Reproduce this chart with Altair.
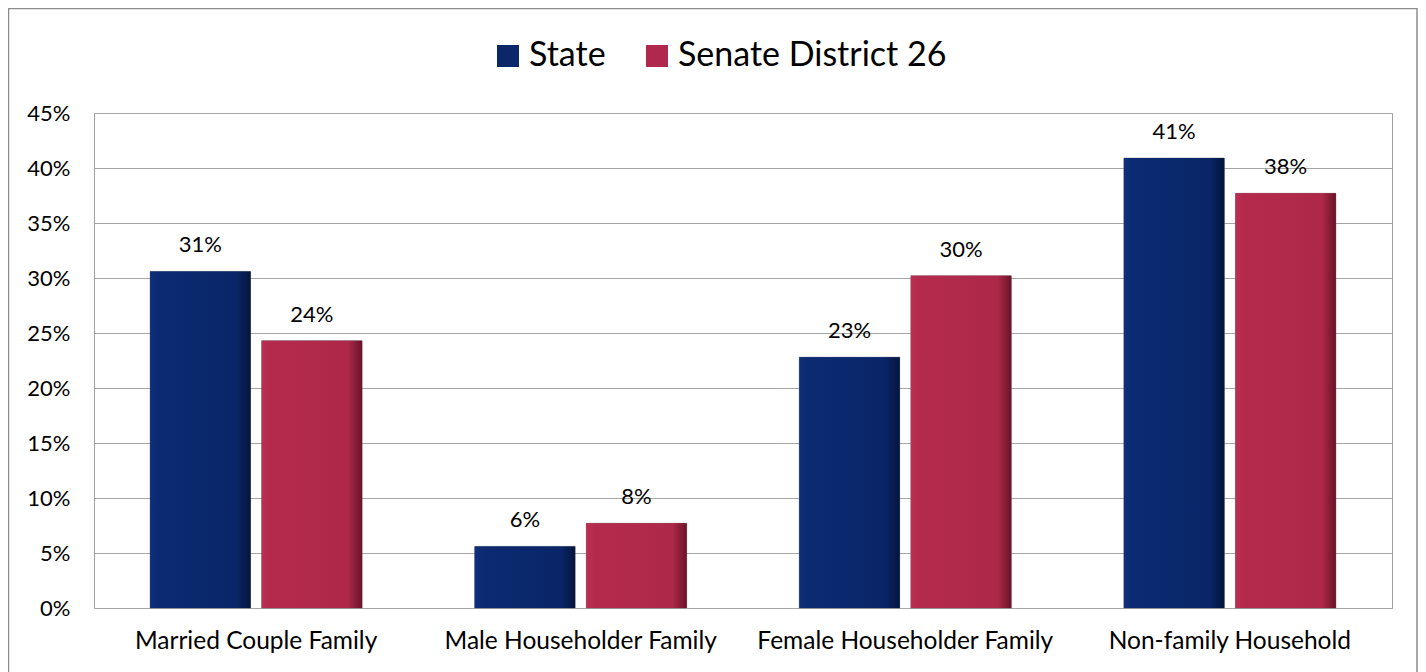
import altair as alt
import pandas as pd

categories = ["Married Couple Family", "Male Householder Family",
              "Female Householder Family", "Non-family Household"]
series = ["State", "Senate District 26"]
state_vals = [0.306, 0.056, 0.228, 0.409]
district_vals = [0.243, 0.077, 0.302, 0.377]
y_ticks = [0, 0.05, 0.10, 0.15, 0.20, 0.25, 0.30, 0.35, 0.40, 0.45]
colors = ["#0B2769", "#B0284B"]

rows = []
for c, s, d in zip(categories, state_vals, district_vals):
    rows.append({"category": c, "series": series[0], "value": s})
    rows.append({"category": c, "series": series[1], "value": d})
df = pd.DataFrame(rows)

FONT = "Lato"
W, H = 1298, 495
PAD = {"left": 86, "top": 105, "right": 26, "bottom": 80}

grad_state = {"gradient": "linear", "x1": 0, "y1": 0, "x2": 1, "y2": 0,
              "stops": [{"offset": 0, "color": "#0E2F7A"},
                        {"offset": 0.08, "color": "#0B2A72"},
                        {"offset": 0.86, "color": "#0A2668"},
                        {"offset": 1, "color": "#04143C"}]}
grad_dist = {"gradient": "linear", "x1": 0, "y1": 0, "x2": 1, "y2": 0,
             "stops": [{"offset": 0, "color": "#BC2F52"},
                       {"offset": 0.08, "color": "#B42A4D"},
                       {"offset": 0.86, "color": "#AE284A"},
                       {"offset": 1, "color": "#6A1428"}]}

x_enc = alt.X("category:N", sort=categories,
              scale=alt.Scale(paddingInner=0.347, paddingOuter=0.173),
              axis=alt.Axis(title=None, labelAngle=0, labelFontSize=24.5, labelFont=FONT,
                            labelColor="#000000", labelPadding=21, ticks=False, domain=False,
                            grid=False, labelLimit=0))
xo_enc = alt.XOffset("series:N", sort=series,
                     scale=alt.Scale(paddingInner=0.1, paddingOuter=0))
y_enc = alt.Y("value:Q",
              scale=alt.Scale(domain=[0, 0.45], nice=False),
              axis=alt.Axis(title=None, values=y_ticks, format=".0%", labelFontSize=22,
                            labelFont=FONT, labelColor="#000000", labelPadding=24,
                            ticks=False, domain=False, grid=True, gridColor="#A6A6A6",
                            gridWidth=1))

base = alt.Chart(df)

bars = base.mark_bar(stroke="#5A5A5A", strokeWidth=0.5).encode(
    x=x_enc, xOffset=xo_enc, y=y_enc,
    color=alt.Color("series:N", sort=series,
                    scale=alt.Scale(domain=series, range=colors),
                    legend=alt.Legend(title=None, orient="none", direction="horizontal",
                                      legendX=397, legendY=-74, symbolType="square",
                                      symbolSize=484, symbolStrokeWidth=0,
                                      labelFontSize=34, labelFont=FONT,
                                      labelColor="#000000", labelOffset=4,
                                      columnPadding=34, padding=0, labelLimit=0))
)

bevel = base.mark_bar().encode(
    x=x_enc, xOffset=xo_enc, y=y_enc,
    fill=alt.condition("datum.series == 'State'", alt.value(grad_state), alt.value(grad_dist))
)

labels = base.mark_text(baseline="bottom", dy=-14, fontSize=22, font=FONT,
                        color="#000000").encode(
    x=x_enc, xOffset=xo_enc, y=y_enc,
    text=alt.Text("value:Q", format=".0%")
)

frame = alt.Chart(alt.Data(values=[{}])).mark_rect(
    fill=None, stroke="#8C8C8C", strokeWidth=1.5).encode(
    x=alt.value(-PAD["left"] + 0.5), x2=alt.value(W + PAD["right"] - 1),
    y=alt.value(-PAD["top"] + 0.5), y2=alt.value(H + PAD["bottom"] + 20)
)

chart = alt.layer(bars, bevel, labels, frame).properties(
    width=W, height=H,
    autosize=alt.AutoSizeParams(type="none"),
    padding=PAD,
    background="#FFFFFF"
).configure_view(stroke="#A0A0A0", strokeWidth=1)

chart.save("out.html", embed_options={"renderer": "svg", "actions": False})
